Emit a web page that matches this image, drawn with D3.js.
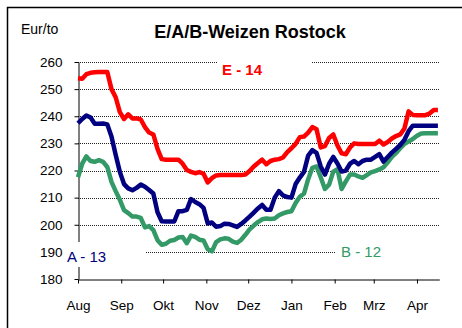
<!DOCTYPE html>
<html>
<head>
<meta charset="utf-8">
<script src="https://cdn.jsdelivr.net/npm/d3@7"></script>
<style>
  html, body { margin: 0; padding: 0; background: #fff; }
  svg { display: block; font-family: "Liberation Sans", Arial, sans-serif; }
</style>
</head>
<body>
<svg id="chart" width="462" height="328"></svg>
<script>
// Day offsets from 1 Aug 2013 (every third day)
const dayOffsets = [0,3,6,9,12,15,18,21,24,27,30,33,36,39,42,45,48,51,54,57,60,63,66,69,72,75,78,81,84,87,
  90,93,96,99,102,105,108,111,114,117,120,123,126,129,132,135,138,141,144,147,150,153,156,159,162,165,168,
  171,174,177,180,183,186,189,192,195,198,201,204,207,210,213,216,219,222,225,228,231,234,237,240,243,246,
  249,252,255,258];

// Prices in Eur/t
const weizenE = [254,253.8,255.5,256,256.2,256.3,256.3,256.3,250,247,241.5,239,240.7,239.2,239.2,238.8,236,234,
  233.3,228,224.2,224,224,224,224,222.5,220.2,219.5,219,219.4,218.8,215.6,217.2,218.2,218.3,218.3,218.3,218.3,
  218.3,218.3,218.5,219.8,221.5,222.8,224,222.3,223.5,224,224.2,224.8,226.8,228.2,229.8,232.3,232.5,234,236,
  235.2,228.5,229,232,233.3,229.2,226.3,226,228.5,230,229.8,229.8,229.8,229.8,229.8,231,229.6,230.5,231.8,
  232.7,233.3,235.5,241.8,240.5,240.4,240.4,240.4,241,242.3,242.3];

const weizenA = [237.4,239,240.3,239.5,237.2,237.2,237.3,237,232.5,225.8,219.5,215,213.4,212.7,213.6,214.8,214,
  212.8,211.5,204.6,201.3,201.2,201.2,201.2,205,205,205.5,209.5,208.4,207.6,206.2,200.5,200.8,199.3,199.5,
  200.4,200.3,199.8,199.2,200.3,201.6,203,204.5,206,207.3,205.5,205.5,210,212.4,210.8,210.2,210,215,217.4,
  219.5,225.5,227.5,226.5,221.5,218.5,222.5,225,222.6,219.6,220,222.5,223.5,222.3,223.5,224,224,225,226,
  223.3,225,226.6,228,229.4,231.3,234.5,236.5,236.5,236.5,236.5,236.5,236.5,236.5];

const weizenB = [217.5,222.5,225.2,223.5,223.2,223.8,223.2,221.3,215.8,212.4,209.2,205.4,204.3,203,203,202.5,
  199,199.5,198,194.3,192.6,193,194.1,194.4,195.3,195.5,193.2,196,195.5,194.5,194.2,191,190.2,193.6,194.6,
  195,194.8,193.8,193.3,194.5,196.3,198.3,199.7,201,202,202.3,202.1,202.3,203.5,204.2,204.7,205,208,210.3,
  211.5,216.8,221,221.5,217.5,213.2,214.8,219.6,220.5,213.2,216,218.5,218.5,217.8,217.3,218.3,219.3,219.8,
  220.4,221.2,223,225,226.5,228.2,229.8,230.7,231.6,232.8,233.6,233.7,233.7,233.7,233.7];

const monthLabels = ["Aug","Sep","Okt","Nov","Dez","Jan","Feb","Mrz","Apr"];
const yTicks = [180,190,200,210,220,230,240,250,260];

const seriesList = [
  { name: "B - 12", values: weizenB, color: "#339966" },
  { name: "A - 13", values: weizenA, color: "#000080" },
  { name: "E - 14", values: weizenE, color: "#ff0000" }
];

const svg = d3.select("#chart");
const start = new Date(2013, 7, 1);
const dateOf = d => d3.timeDay.offset(start, d);

const x = d3.scaleTime().domain([start, dateOf(259)]).range([78, 439.3]);
const y = d3.scaleLinear().domain([180, 260]).range([279, 62]);
const monthStarts = monthLabels.map((m, i) => d3.timeMonth.offset(start, i));

// outer frame
svg.append("rect").attr("x", 7.5).attr("y", 7.5).attr("width", 480).attr("height", 340)
  .attr("fill", "#fff").attr("stroke", "#000").attr("stroke-width", 1.5);

// dotted gridlines
svg.append("g").selectAll("line").data(yTicks.slice(1)).join("line")
  .attr("x1", 78).attr("x2", 439.3)
  .attr("y1", d => Math.round(y(d)) + 0.5).attr("y2", d => Math.round(y(d)) + 0.5)
  .attr("stroke", "#222").attr("stroke-width", 1).attr("stroke-dasharray", "1,1");

// axes
const yAxis = svg.append("g").attr("transform", "translate(78.5,0)")
  .call(d3.axisLeft(y).tickValues(yTicks).tickFormat(d3.format("d")).tickSize(4).tickSizeOuter(0).tickPadding(12));
const xAxis = svg.append("g").attr("transform", "translate(0,279.5)")
  .call(d3.axisBottom(x).tickValues(monthStarts).tickFormat((d, i) => monthLabels[i]).tickSize(4).tickSizeOuter(0).tickPadding(17));
[yAxis, xAxis].forEach(g => {
  g.selectAll("path, line").attr("stroke", "#000").attr("stroke-width", 1);
  g.selectAll("text").attr("fill", "#000").style("font-size", "13.5px")
    .style("font-family", "'Liberation Sans', Arial, sans-serif");
});

// price lines
const line = d3.line().x((d, i) => x(dateOf(dayOffsets[i]))).y(d => y(d));
svg.append("g").selectAll("path").data(seriesList).join("path")
  .attr("d", s => line(s.values)).attr("fill", "none").attr("stroke", s => s.color)
  .attr("stroke-width", 4.5).attr("stroke-linejoin", "round").attr("stroke-linecap", "butt");

// label boxes
const labels = [
  { text: "E - 14", box: [217, 54, 95, 26], tx: 222, ty: 75, color: "#ff0000", weight: "bold" },
  { text: "A - 13", box: [64, 242, 81, 25], tx: 67, ty: 261.5, color: "#000080", weight: "normal" },
  { text: "B - 12", box: [335, 240, 110, 26], tx: 341, ty: 256.5, color: "#339966", weight: "normal" }
];
labels.forEach(l => {
  svg.append("rect").attr("x", l.box[0]).attr("y", l.box[1]).attr("width", l.box[2]).attr("height", l.box[3]).attr("fill", "#fff");
  svg.append("text").attr("x", l.tx).attr("y", l.ty).attr("fill", l.color)
    .style("font-size", "15px").style("font-weight", l.weight).text(l.text);
});

// titles
svg.append("text").attr("x", 250).attr("y", 38).attr("text-anchor", "middle")
  .style("font-size", "18px").style("font-weight", "bold").text("E/A/B-Weizen Rostock");
svg.append("text").attr("x", 21).attr("y", 34).style("font-size", "14px").text("Eur/to");
</script>
</body>
</html>
